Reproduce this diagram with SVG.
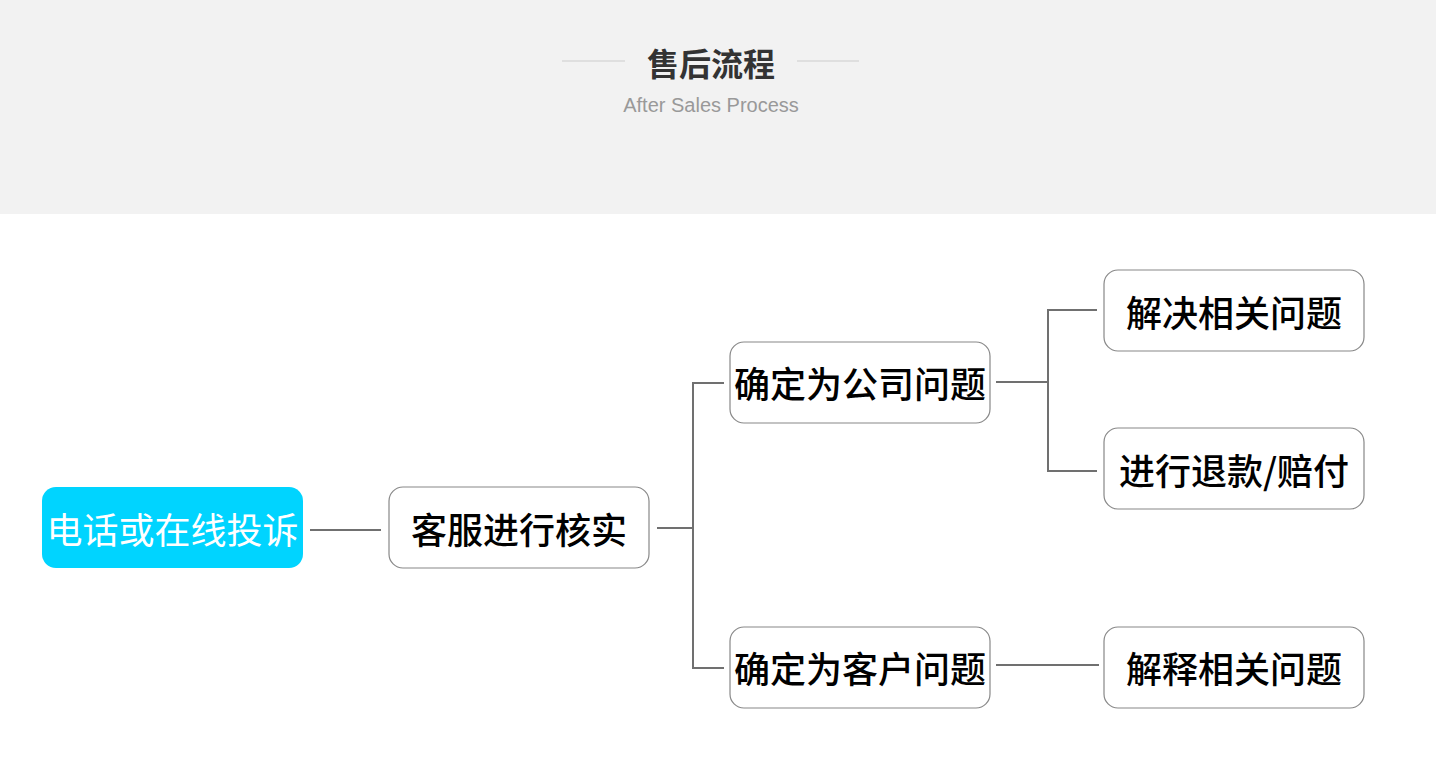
<svg xmlns="http://www.w3.org/2000/svg" width="1436" height="757" viewBox="0 0 1436 757">
<style>
.box{fill:#fff;stroke:#888;stroke-width:1.2}
.lbl{font-family:"Noto Sans CJK SC","Noto Sans",sans-serif;font-size:36px;font-weight:500;fill:#000;text-anchor:middle;dominant-baseline:central}
.con{fill:none;stroke:#707070;stroke-width:2}
</style>
<rect x="0" y="0" width="1436" height="214" fill="#f2f2f2"/>
<g id="header">
<line x1="562" y1="61" x2="625" y2="61" stroke="#ccc" stroke-width="1"/>
<line x1="797" y1="61" x2="859" y2="61" stroke="#ccc" stroke-width="1"/>
<text x="711" y="62" font-family="Noto Sans CJK SC,sans-serif" font-size="32" font-weight="bold" fill="#333" text-anchor="middle" dominant-baseline="central">售后流程</text>
<text x="711" y="105" font-family="Liberation Sans,Arial,sans-serif" font-size="20" fill="#999" text-anchor="middle" dominant-baseline="central">After Sales Process</text>
</g>
<g id="connectors">
<path class="con" d="M310 530H381"/>
<path class="con" d="M657 528H693M724 383H693V668H724"/>
<path class="con" d="M996 382H1048M1097 310H1048V471H1097"/>
<path class="con" d="M996 665H1099"/>
</g>
<g id="n1"><rect x="42" y="487" width="261" height="81" rx="14" fill="#00d4ff"/><text class="lbl" x="172.5" y="528" style="fill:#fff;font-weight:400">电话或在线投诉</text></g>
<g id="n2"><rect class="box" x="389" y="487" width="260" height="81" rx="14"/><text class="lbl" x="519" y="528">客服进行核实</text></g>
<g id="n3"><rect class="box" x="730" y="342" width="260" height="81" rx="14"/><text class="lbl" x="860" y="382">确定为公司问题</text></g>
<g id="n4"><rect class="box" x="730" y="627" width="260" height="81" rx="14"/><text class="lbl" x="860" y="667">确定为客户问题</text></g>
<g id="n5"><rect class="box" x="1104" y="270" width="260" height="81" rx="14"/><text class="lbl" x="1234" y="311">解决相关问题</text></g>
<g id="n6"><rect class="box" x="1104" y="428" width="260" height="81" rx="14"/><text class="lbl" x="1234" y="469">进行退款/赔付</text></g>
<g id="n7"><rect class="box" x="1104" y="627" width="260" height="81" rx="14"/><text class="lbl" x="1234" y="667">解释相关问题</text></g>
</svg>
